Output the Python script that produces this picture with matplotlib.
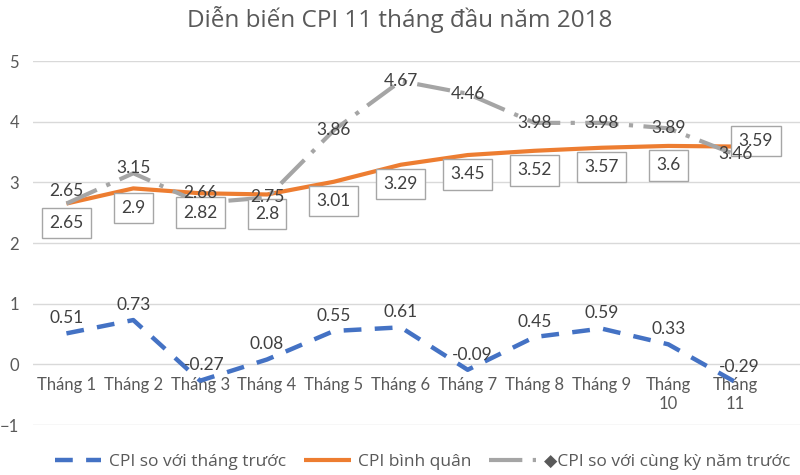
import matplotlib
matplotlib.use("Agg")
import matplotlib.pyplot as plt

# data
months = ["Tháng 1", "Tháng 2", "Tháng 3", "Tháng 4", "Tháng 5", "Tháng 6",
          "Tháng 7", "Tháng 8", "Tháng 9", "Tháng\n10", "Tháng\n11"]
cpi_mom = [0.51, 0.73, -0.27, 0.08, 0.55, 0.61, -0.09, 0.45, 0.59, 0.33, -0.29]
cpi_avg = [2.65, 2.9, 2.82, 2.8, 3.01, 3.29, 3.45, 3.52, 3.57, 3.6, 3.59]
cpi_yoy = [2.65, 3.15, 2.66, 2.75, 3.86, 4.67, 4.46, 3.98, 3.98, 3.89, 3.46]

blue = "#4472C4"
orange = "#ED7D31"
gray = "#A5A5A5"
txt = "#595959"
lbl = "#404040"

plt.rcParams['font.family'] = ['Lato', 'DejaVu Sans']

fig = plt.figure(figsize=(8, 4.75), dpi=100)
ax = fig.add_axes([33/800, 50/475, 1 - 33/800, 364/475])

x = list(range(len(months)))

l1, = ax.plot(x, cpi_mom, color=blue, lw=3.2, dashes=(4, 3), zorder=3)
l2, = ax.plot(x, cpi_avg, color=orange, lw=3, solid_capstyle='butt', zorder=3)
l3, = ax.plot(x, cpi_yoy, color=gray, lw=3, dashes=(8, 2.5, 1, 2.5), zorder=4)

ax.set_xlim(-0.5, 10.97)
ax.set_ylim(-1, 5)
ax.set_yticks(range(-1, 6))
ax.yaxis.grid(True, color="#D9D9D9", lw=1)
ax.set_axisbelow(True)
for s in ax.spines.values():
    s.set_visible(False)
ax.spines['bottom'].set_position(('data', 0))
ax.set_xticks(x)
ax.set_xticklabels(months, linespacing=1.25)
ax.tick_params(axis='x', length=0, pad=9, labelsize=12, labelcolor=txt)
ax.tick_params(axis='y', length=0, pad=10, labelsize=12, labelcolor=txt)

# labels: blue above, orange boxed below, gray centred on the point
for i, v in enumerate(cpi_mom):
    ax.annotate(f"{v:g}", (i, v), xytext=(3 if v < 0 else 0, 11),
                textcoords='offset points', ha='center', va='center',
                fontsize=12.5, color=lbl, zorder=6)

box = dict(boxstyle='square,pad=0.42', fc='white', ec='#A6A6A6', lw=1)
for i, v in enumerate(cpi_avg):
    off = (15, 4) if i == len(cpi_avg) - 1 else (0, -14)
    ax.annotate(f"{v:g}", (i, v), xytext=off, textcoords='offset points',
                ha='center', va='center', fontsize=12.5, color=lbl,
                bbox=box, zorder=5)

yoy_dy = [9, 4, 7, 0, 0, 0, 0, 0, 0, 0, 0]
for i, v in enumerate(cpi_yoy):
    ax.annotate(f"{v:g}", (i, v), xytext=(0, yoy_dy[i]),
                textcoords='offset points', ha='center', va='center',
                fontsize=12.5, color=lbl, zorder=6)

fig.text(0.5, 0.958, "Diễn biến CPI 11 tháng đầu năm 2018", ha='center',
         va='center', fontsize=17.5, color=txt, family=['Open Sans', 'DejaVu Sans'])

leg = fig.legend([l1, l2, l3],
                 ["CPI so với tháng trước", "CPI bình quân",
                  "◆CPI so với cùng kỳ năm trước"],
                 loc='center', bbox_to_anchor=(0.528, 0.028), ncol=3,
                 frameon=False, handlelength=2.7, columnspacing=1.0,
                 handletextpad=0.45, borderpad=0.2,
                 prop={'family': ['Open Sans', 'DejaVu Sans'], 'size': 12.5})
for t in leg.get_texts():
    t.set_color(txt)

fig.savefig("out.png", dpi=100)
